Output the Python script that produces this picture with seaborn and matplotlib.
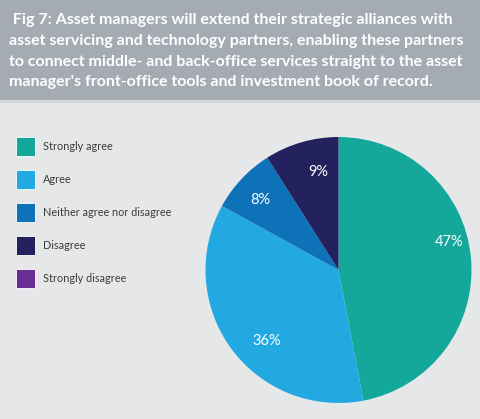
import matplotlib
matplotlib.use("Agg")
import numpy as np
import matplotlib.pyplot as plt
import seaborn as sns
from matplotlib.patches import Rectangle

# Data
categories = ["Strongly agree", "Agree", "Neither agree nor disagree",
              "Disagree", "Strongly disagree"]
shares = [47, 36, 8, 9, 0]
colors = ["#13a89a", "#23a9e1", "#0e72b8", "#23215e", "#6a2d92"]
title = (" Fig 7: Asset managers will extend their strategic alliances with\n"
         "asset servicing and technology partners, enabling these partners\n"
         "to connect middle- and back-office services straight to the asset\n"
         "manager's front-office tools and investment book of record.")

sns.set_theme(style="white")
plt.rcParams["font.family"] = ["Lato", "DejaVu Sans"]

W, H = 480, 419
fig = plt.figure(figsize=(W / 100, H / 100), dpi=100)
fig.patch.set_facecolor("#e6e7e9")

# title bar
fig.patches.append(Rectangle((0, 1 - 100 / H), 1, 100 / H, transform=fig.transFigure,
                             facecolor="#a4abb3", edgecolor="none", zorder=0))
fig.patches.append(Rectangle((0, 1 - 103 / H), 1, 3 / H, transform=fig.transFigure,
                             facecolor="#d3d6da", edgecolor="none", zorder=0))
fig.text(9 / W, 1 - 13 / H, title, color="white", fontsize=11.5, fontweight="bold",
         va="top", ha="left", linespacing=1.62)

# pie
cx, cy, r = 338.5, 270, 133
ax = fig.add_axes([(cx - r) / W, 1 - (cy + r) / H, 2 * r / W, 2 * r / H])
ax.set_facecolor("none")
vals = [v for v in shares if v > 0]
cols = [c for v, c in zip(shares, colors) if v > 0]
wedges, _, autotexts = ax.pie(vals, colors=cols, startangle=90, counterclock=False,
                              autopct="%d%%", pctdistance=0.8,
                              wedgeprops=dict(linewidth=0))
# label placement (radius fraction, angle in degrees)
label_pos = [(0.86, 14), (0.76, 225), (0.79, 138), (0.75, 102)]
for t, (rf, ang) in zip(autotexts, label_pos):
    t.set_position((rf * np.cos(np.radians(ang)), rf * np.sin(np.radians(ang))))
    t.set_color("white")
    t.set_fontsize(10.5)
ax.set_xlim(-1, 1)
ax.set_ylim(-1, 1)
ax.set_aspect("equal")

# legend
lax = fig.add_axes([0, 0, 1, 1], facecolor="none")
lax.set_xlim(0, W)
lax.set_ylim(H, 0)
lax.axis("off")
for i, (lab, c) in enumerate(zip(categories, colors)):
    y0 = 137 + i * 33
    lax.add_patch(Rectangle((16, y0), 19, 19, facecolor=c, edgecolor="white", linewidth=0.6))
    lax.text(43, y0 + 9.5, lab, color="#3a3a3a", fontsize=7.8, va="center", ha="left")

fig.savefig("out.png", dpi=100, facecolor=fig.get_facecolor())
